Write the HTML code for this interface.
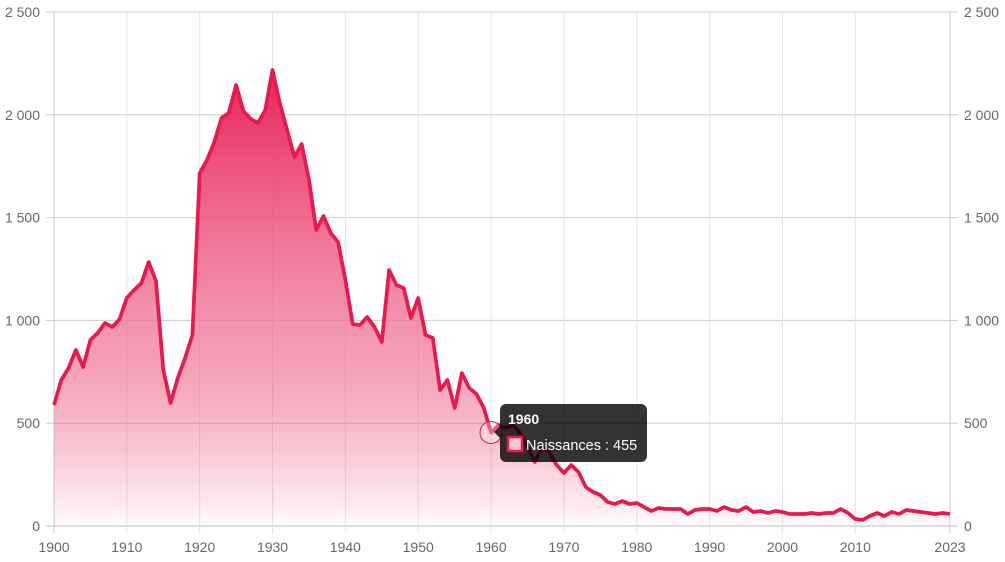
<!DOCTYPE html>
<html><head><meta charset="utf-8"><style>
body{margin:0;background:#fff;}
svg{display:block;font-family:"Liberation Sans",sans-serif;}
</style></head><body>
<svg id="s" width="1005" height="562" viewBox="0 0 1005 562" xmlns="http://www.w3.org/2000/svg">
<defs><linearGradient id="g" x1="0" y1="70" x2="0" y2="526" gradientUnits="userSpaceOnUse">
<stop offset="0" stop-color="#e8194f" stop-opacity="0.95"/>
<stop offset="0.55" stop-color="#ee6a90" stop-opacity="0.72"/>
<stop offset="1" stop-color="#e8194f" stop-opacity="0.02"/>
</linearGradient></defs>
<g id="grid" stroke="#ddd" stroke-width="1"></g>
<path id="area" fill="url(#g)"/>
<path id="line" fill="none" stroke="#e8194f" stroke-width="3.7" stroke-linejoin="round"/>
<g id="labels" fill="#666" font-size="14"></g>
<circle cx="491" cy="432.5" r="11" fill="rgba(255,255,255,0.3)" stroke="#e8194f" stroke-width="1"/>
<rect x="500" y="404" width="147" height="58" rx="6" fill="rgba(0,0,0,0.8)"/>
<polygon points="494,432 500,426 500,438" fill="rgba(0,0,0,0.8)"/>
<text x="508" y="424" fill="#fff" font-size="14" font-weight="bold">1960</text>
<rect x="508" y="437" width="14" height="14" fill="#f7c6d3" stroke="#e8194f" stroke-width="2.5"/>
<text x="526" y="450" fill="#fff" font-size="14.5">Naissances : 455</text>
</svg>
<script>
var py=[405,380,368,350,367,340,333,323,327,319,298,290,283,262,281,370,403,378,358,335,173,160,142,118,113,85,111,119,123,110,70,103,130,157,144,180,230,216,233,242,280,324,325,317,327,342,270,285,288,318,298,335,338,390,380,408,373,388,394,408,432.5,425,428,425,433,447,462,447,452,465,473,465,472,487,492,495,502,504,501,504,503,507,511,508,509,509,509,514,510,509,509,511,507,510,511,507,512,511,513,511,512,514,514,514,513,514,513,513,509,513,519,520,516,513,516,512,514,510,511,512,513,514,513,514];
function X(y){return 54+(y-1900)*896/123;}
var d="";for(var i=0;i<py.length;i++){d+=(i?"L":"M")+X(1900+i).toFixed(1)+","+py[i];}
document.getElementById("line").setAttribute("d",d);
document.getElementById("area").setAttribute("d",d+"L950,526L54,526Z");
var g=document.getElementById("grid"),L=document.getElementById("labels"),ns="http://www.w3.org/2000/svg";
function el(p,t,a,txt){var e=document.createElementNS(ns,t);for(var k in a)e.setAttribute(k,a[k]);if(txt)e.textContent=txt;p.appendChild(e);}
var yl=["0","500","1 000","1 500","2 000","2 500"];
for(var i=0;i<6;i++){var y=526-i*102.8;el(g,"line",{x1:46,x2:958,y1:y,y2:y,stroke:i==0?"#bbb":"#ccc"});
el(L,"text",{x:40,y:y+5,"text-anchor":"end"},yl[i]);el(L,"text",{x:964,y:y+5},yl[i]);}
var xs=[1900,1910,1920,1930,1940,1950,1960,1970,1980,1990,2000,2010,2023];
for(var j=0;j<xs.length;j++){var x=X(xs[j]);el(g,"line",{x1:x,x2:x,y1:12,y2:534,stroke:(j==0||j==12)?"#ccc":"#e4e4e4"});
el(L,"text",{x:x,y:552,"text-anchor":"middle"},""+xs[j]);}
</script>
</body></html>
